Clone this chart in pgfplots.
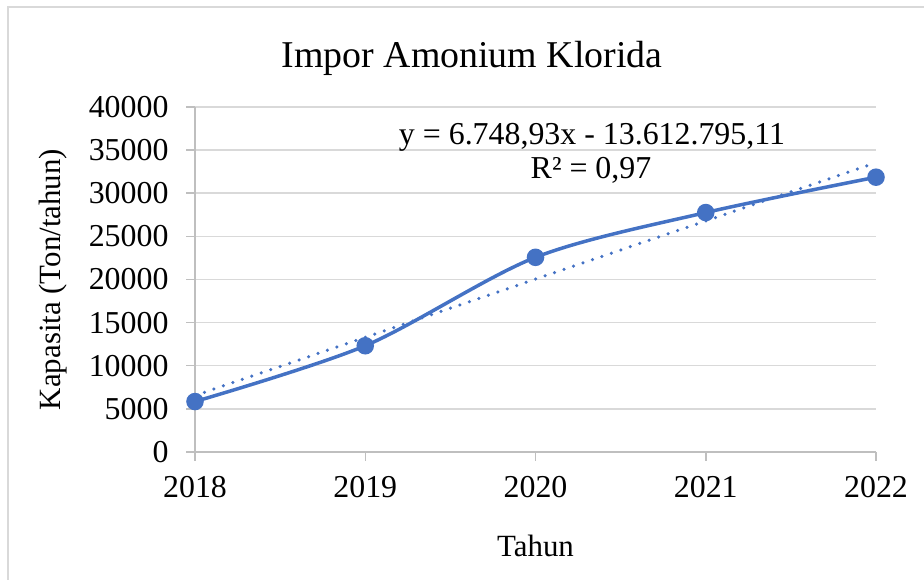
\documentclass[border=0pt]{standalone}
\usepackage{pgfplots}
\pgfplotsset{compat=1.18}
\usepackage{fontspec}
\setmainfont{Liberation Serif}
\definecolor{ser}{HTML}{4472C4}
\definecolor{grd}{HTML}{D9D9D9}
\definecolor{axl}{HTML}{BFBFBF}
\begin{document}
\begin{tikzpicture}[x=1bp,y=1bp]
\useasboundingbox (0,0) rectangle (924,580);
\draw[grd, line width=1.5bp] (8,-20) -- (8,573) -- (950,573);
\node[font=\fontsize{38}{44}\selectfont, anchor=base] at (472,512) {Impor Amonium Klorida};
\begin{axis}[
  at={(195bp,128bp)}, anchor=south west,
  scale only axis, width=681bp, height=345bp,
  xmin=2018, xmax=2022, ymin=0, ymax=40000,
  scaled ticks=false,
  separate axis lines,
  axis x line*=bottom, axis y line*=left,
  x axis line style={draw=axl, line width=1.5bp, -},
  y axis line style={draw=axl, line width=1.5bp, -},
  xtick={2018,2019,2020,2021,2022},
  xticklabels={2018,2019,2020,2021,2022},
  ytick={0,5000,10000,15000,20000,25000,30000,35000,40000},
  yticklabels={0,5000,10000,15000,20000,25000,30000,35000,40000},
  ticklabel style={font=\fontsize{32}{38}\selectfont},
  xticklabel style={yshift=-12bp},
  yticklabel style={xshift=-14bp},
  xtick style={draw=axl, line width=1.5bp},
  ytick style={draw=axl, line width=1.5bp},
  tick align=outside, major tick length=9bp,
  ymajorgrids, grid style={draw=grd, line width=1.5bp},
  xlabel={Tahun}, ylabel={Kapasita (Ton/tahun)},
  label style={font=\fontsize{31}{36}\selectfont},
  xlabel style={yshift=-30bp},
  ylabel style={yshift=15bp},
  clip=false,
]
\addplot[ser, line width=3.5bp, line cap=round, dash pattern=on 0bp off 10bp] coordinates {(2018,6545.6) (2022,33541.4)};
\addplot[ser, line width=3.5bp, smooth, tension=0.5, mark=*, mark size=7bp, mark options={solid, fill=ser}] coordinates {
(2018,5850) (2019,12320) (2020,22570) (2021,27760) (2022,31860)};
\end{axis}
\node[font=\fontsize{32}{36}\selectfont] at (592,443) {y = 6.748,93x - 13.612.795,11};
\node[font=\fontsize{32}{36}\selectfont] at (591,410) {R² = 0,97};
\end{tikzpicture}
\end{document}
